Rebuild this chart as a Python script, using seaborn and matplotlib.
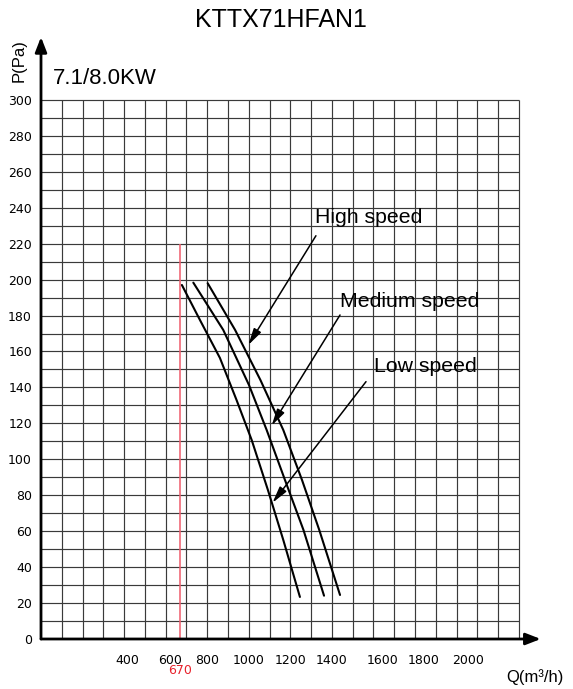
import numpy as np
import pandas as pd
import matplotlib
matplotlib.use("Agg")
import matplotlib.pyplot as plt
from matplotlib.transforms import ScaledTranslation
import seaborn as sns

# Fan curves: airflow Q (m3/h) vs static pressure P (Pa)
low_flow = [678, 765, 861, 941, 1014, 1092, 1166, 1246]
low_pres = [197, 177.5, 156.4, 133, 110.7, 82.9, 55.1, 23.4]
med_flow = [733, 877, 1001, 1086, 1174, 1263, 1362]
med_pres = [198.3, 172, 141.3, 116.3, 88.5, 60.7, 24.1]
high_flow = [802, 934, 1056, 1166, 1256, 1339, 1439]
high_pres = [198, 172, 144.1, 116.3, 88.5, 60.7, 24.5]

speed_names = ["Low speed", "Medium speed", "High speed"]
rated_flow = 670
rated_pres_top = 220

x_tick_values = [400, 600, 800, 1000, 1200, 1400, 1600, 1800, 2000]
y_tick_values = list(range(0, 301, 20))

title = "KTTX71HFAN1"
capacity = "7.1/8.0KW"

df = pd.concat([
    pd.DataFrame({"Q": low_flow, "P": low_pres, "speed": speed_names[0]}),
    pd.DataFrame({"Q": med_flow, "P": med_pres, "speed": speed_names[1]}),
    pd.DataFrame({"Q": high_flow, "P": high_pres, "speed": speed_names[2]}),
], ignore_index=True)

sns.set_style("white")
plt.rcParams["font.family"] = ["Liberation Sans", "DejaVu Sans"]
plt.rcParams["text.color"] = "black"

W, H = 573, 689
fig = plt.figure(figsize=(W / 100, H / 100), dpi=100)

# axes geometry (pixels): Q=0 at x=41, 100 m3/h per 20.78 px; P=0 at y=639, 1.797 px/Pa
x0_px, y0_px = 41, 639
px_per_q, px_per_p = 0.2078, 1.797
xmax, ymax = 2430, 345
ax = fig.add_axes([x0_px / W, (H - y0_px) / H,
                   xmax * px_per_q / W, ymax * px_per_p / H])
ax.set_xlim(0, xmax)
ax.set_ylim(0, ymax)
for s in ax.spines.values():
    s.set_visible(False)

# grid: 100 m3/h by 10 Pa cells up to 2300 x 300
grid_c = "#3a3a3a"
ax.vlines(np.arange(100, 2301, 100), 0, 300, color=grid_c, lw=0.85, zorder=1)
ax.hlines(np.arange(10, 301, 10), 0, 2300, color=grid_c, lw=0.85, zorder=1)

# rated airflow marker
ax.vlines(rated_flow, 0, rated_pres_top, color="#ef5b6b", lw=1.1, zorder=2)

sns.lineplot(data=df, x="Q", y="P", hue="speed", palette=["black"] * 3,
             sort=False, estimator=None, lw=1.5, legend=False, ax=ax, zorder=3)
ax.set_xlabel("")
ax.set_ylabel("")

# axis lines with arrowheads
axis_arrow = dict(arrowstyle="-|>,head_length=0.9,head_width=0.35",
                  color="black", lw=2.0, shrinkA=0, shrinkB=0)
ax.annotate("", xy=(2405, 0), xytext=(0, 0), arrowprops=axis_arrow,
            annotation_clip=False, zorder=5)
ax.annotate("", xy=(0, 335), xytext=(0, 0), arrowprops=axis_arrow,
            annotation_clip=False, zorder=5)

# speed labels with pointer arrows
labels = [
    ("High speed", (1319, 231.5), (1323, 224.4), (997.6, 163.6)),
    ("Medium speed", (1439, 184.9), (1439, 180.3), (1110, 118.8)),
    ("Low speed", (1602, 148.7), (1564, 143.2), (1114, 75.8)),
]
ptr_arrow = dict(arrowstyle="-|>,head_length=1.0,head_width=0.25",
                 color="black", lw=1.1, shrinkA=0, shrinkB=0)
for text, txy, tail, tip in labels:
    ax.text(txy[0], txy[1], text, fontsize=15.3, ha="left", va="baseline",
            color="black", zorder=6)
    ax.annotate("", xy=tip, xytext=tail, arrowprops=ptr_arrow, zorder=6)

# ticks
ax.set_xticks(x_tick_values)
ax.set_xticklabels([str(v) for v in x_tick_values])
ax.set_yticks(y_tick_values)
ax.set_yticklabels([str(v) for v in y_tick_values])
ax.tick_params(axis="x", direction="inout", length=3, width=2, pad=9,
               labelsize=9, colors="black")
ax.tick_params(axis="y", length=0, pad=6.5, labelsize=9, colors="black")
for lab in ax.get_xticklabels() + ax.get_yticklabels():
    lab.set_fontfamily("DejaVu Sans")
x_label_shift = {400: 3, 600: 4, 1600: 9, 1800: 9, 2000: 11}
for v, lab in zip(x_tick_values, ax.get_xticklabels()):
    dx = x_label_shift.get(v, 0)
    if dx:
        lab.set_transform(lab.get_transform() +
                          ScaledTranslation(dx / 100, 0, fig.dpi_scale_trans))

ax.text(rated_flow, -17.8, str(rated_flow), color="#e8212b", fontsize=9,
        ha="center", va="center", family="DejaVu Sans", clip_on=False)
ax.text(2377, -21.1, "Q(m³/h)", fontsize=12, ha="center", va="center",
        clip_on=False)

fig.text(19 / W, 1 - 61 / H, "P(Pa)", fontsize=12, rotation=90,
         ha="center", va="center")
fig.text(281 / W, 1 - 20 / H, title, fontsize=18, ha="center", va="center")
fig.text(53 / W, 1 - 84.3 / H, capacity, fontsize=16, ha="left",
         va="baseline")

fig.savefig("out.png", dpi=100)
